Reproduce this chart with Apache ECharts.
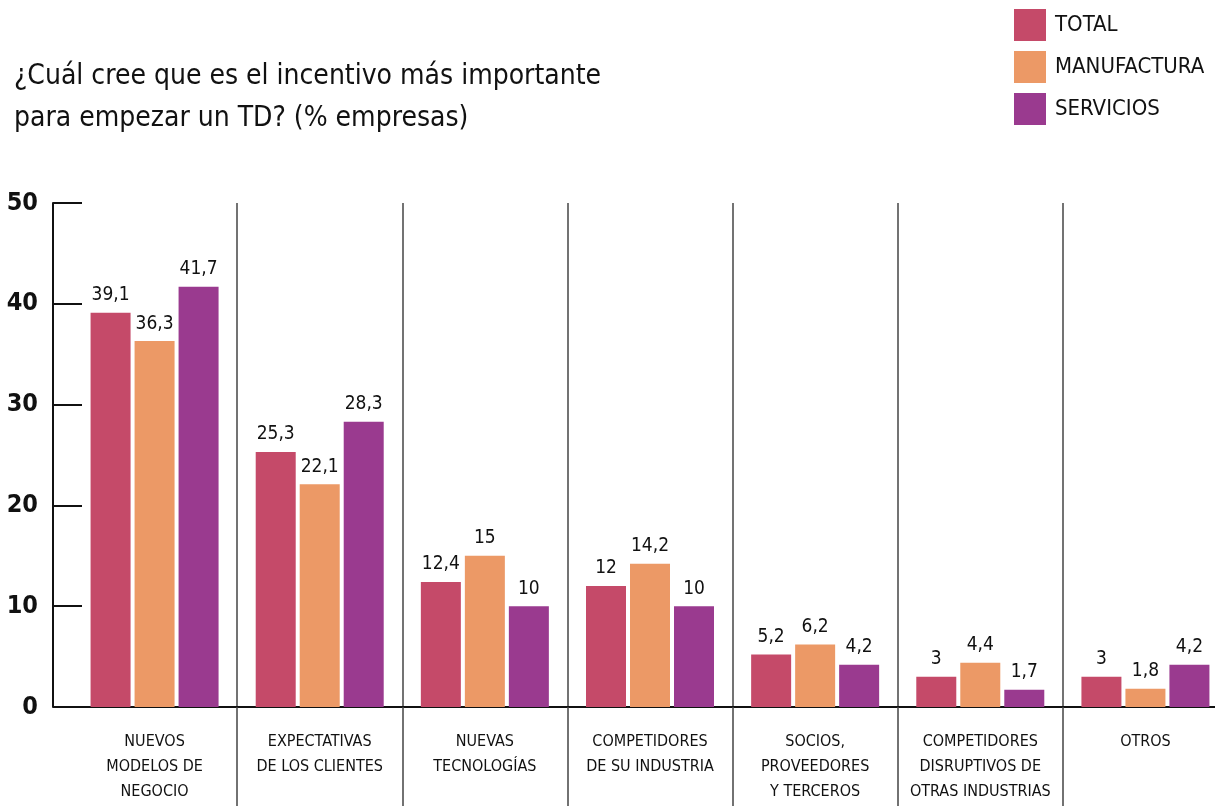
<!DOCTYPE html>
<html>
<head>
<meta charset="utf-8">
<script src="https://cdn.jsdelivr.net/npm/echarts@6/dist/echarts.min.js"></script>
<style>
  html, body { margin: 0; padding: 0; background: #fff; }
  #chart { width: 1215px; height: 806px; }
</style>
</head>
<body>
<div id="chart"></div>
<script>
// Incentives for starting a digital transformation (% of companies)
const categories = [
  'NUEVOS\nMODELOS DE\nNEGOCIO',
  'EXPECTATIVAS\nDE LOS CLIENTES',
  'NUEVAS\nTECNOLOGÍAS',
  'COMPETIDORES\nDE SU INDUSTRIA',
  'SOCIOS,\nPROVEEDORES\nY TERCEROS',
  'COMPETIDORES\nDISRUPTIVOS DE\nOTRAS INDUSTRIAS',
  'OTROS'
];
const seriesNames = ['TOTAL', 'MANUFACTURA', 'SERVICIOS'];
const totalValues = [39.1, 25.3, 12.4, 12, 5.2, 3, 3];
const manufacturaValues = [36.3, 22.1, 15, 14.2, 6.2, 4.4, 1.8];
const serviciosValues = [41.7, 28.3, 10, 10, 4.2, 1.7, 4.2];
const yTicks = [0, 10, 20, 30, 40, 50];

const FONT = '"DejaVu Sans Condensed", "Liberation Sans Narrow", "Roboto", sans-serif';
const colors = ['#C54A69', '#EC9966', '#9A3A8F'];

const chart = echarts.init(document.getElementById('chart'), null, { renderer: 'canvas' });

function barSeries(name, values, color) {
  return {
    name: name,
    type: 'bar',
    data: values,
    barWidth: 40,
    barGap: '10%',
    itemStyle: { color: color },
    label: {
      show: true,
      position: 'top',
      distance: 8,
      color: '#111',
      fontFamily: FONT,
      fontSize: 19,
      formatter: p => String(p.value).replace('.', ',')
    }
  };
}

chart.setOption({
  animation: false,
  textStyle: { fontFamily: FONT },
  title: {
    text: '¿Cuál cree que es el incentivo más importante\npara empezar un TD? (% empresas)',
    left: 9,
    top: 51,
    textStyle: {
      fontFamily: FONT,
      fontWeight: 'normal',
      fontSize: 28,
      lineHeight: 42,
      color: '#111'
    }
  },
  legend: {
    orient: 'vertical',
    left: 1014,
    top: 9,
    padding: 0,
    itemWidth: 32,
    itemHeight: 32,
    itemGap: 10,
    icon: 'rect',
    data: seriesNames,
    textStyle: { fontFamily: FONT, fontSize: 22, color: '#111', padding: [4, 0, 0, 4] }
  },
  grid: {
    left: 72,
    width: 1156,
    top: 203,
    bottom: 99,
    containLabel: false,
    outerBoundsMode: 'none'
  },
  xAxis: {
    type: 'category',
    data: categories,
    boundaryGap: true,
    axisLine: { show: true, lineStyle: { color: '#111', width: 2 } },
    axisTick: {
      show: true,
      length: 99,
      interval: (i) => i > 0,
      lineStyle: { color: '#444', width: 1.5 }
    },
    splitLine: {
      show: true,
      interval: (i) => i > 0,
      lineStyle: { color: '#444', width: 1.5 }
    },
    axisLabel: {
      interval: 0,
      margin: 22,
      fontFamily: FONT,
      fontSize: 16,
      lineHeight: 25,
      color: '#111',
      verticalAlign: 'top'
    }
  },
  yAxis: {
    type: 'value',
    min: yTicks[0],
    max: yTicks[yTicks.length - 1],
    interval: 10,
    offset: 19,
    axisLine: { show: true, lineStyle: { color: '#111', width: 2 } },
    axisTick: { show: true, inside: true, length: 29, lineStyle: { color: '#111', width: 2 } },
    splitLine: { show: false },
    axisLabel: {
      margin: 15,
      fontFamily: FONT,
      fontWeight: 'bold',
      fontSize: 25,
      color: '#111'
    }
  },
  series: [
    barSeries(seriesNames[0], totalValues, colors[0]),
    barSeries(seriesNames[1], manufacturaValues, colors[1]),
    barSeries(seriesNames[2], serviciosValues, colors[2])
  ]
});
</script>
</body>
</html>
